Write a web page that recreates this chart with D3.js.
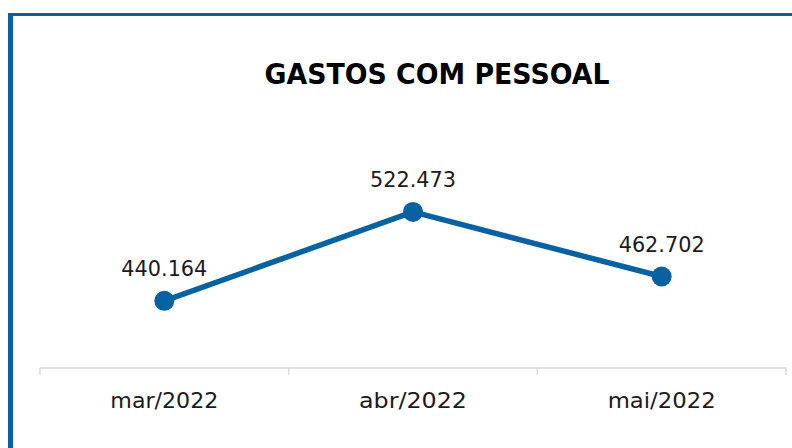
<!DOCTYPE html>
<html>
<head>
<meta charset="utf-8">
<script src="https://cdn.jsdelivr.net/npm/d3@7"></script>
<style>
  html, body { margin: 0; padding: 0; background: #fff; }
  svg { display: block; }
</style>
</head>
<body>
<div id="chart"></div>
<script>
// Gastos com pessoal (valores em milhares)
const categories = ['mar/2022', 'abr/2022', 'mai/2022'];
const values = [440.164, 522.473, 462.702];
const valueLabels = ['440.164', '522.473', '462.702'];
const title = 'GASTOS COM PESSOAL';

const width = 792;
const height = 448;
const blue = '#0862a2';
const font = "'Century Gothic', 'URW Gothic', 'DejaVu Sans', sans-serif";

const svg = d3.select('#chart')
    .append('svg')
    .attr('width', width)
    .attr('height', height);

// Frame (left and top border)
svg.append('rect')
    .attr('x', 8).attr('y', 13)
    .attr('width', width - 8).attr('height', 3)
    .attr('fill', blue);
svg.append('rect')
    .attr('x', 8).attr('y', 13)
    .attr('width', 5).attr('height', height - 13)
    .attr('fill', blue);

// Title
svg.append('text')
    .attr('x', 437)
    .attr('y', 84)
    .attr('text-anchor', 'middle')
    .attr('textLength', 345)
    .attr('lengthAdjust', 'spacingAndGlyphs')
    .style('font-family', font)
    .style('font-size', '28px')
    .style('font-weight', 'bold')
    .style('fill', '#000')
    .text(title);

// Scales
const x = d3.scaleBand()
    .domain(categories)
    .range([40, 786])
    .padding(0);

const y = d3.scaleLinear()
    .domain([378, 540])
    .range([368, 193]);

const cx = (d) => x(d) + x.bandwidth() / 2;

// Category axis
const axis = svg.append('g');
axis.append('line')
    .attr('x1', x.range()[0]).attr('x2', x.range()[1])
    .attr('y1', y(378)).attr('y2', y(378))
    .attr('stroke', '#d9d9d9')
    .attr('stroke-width', 1.5);

const bounds = categories.map((c) => x(c)).concat([x.range()[1]]);
axis.selectAll('line.tick')
    .data(bounds)
    .enter()
    .append('line')
    .attr('class', 'tick')
    .attr('x1', (d) => d).attr('x2', (d) => d)
    .attr('y1', y(378)).attr('y2', y(378) + 7)
    .attr('stroke', '#d9d9d9')
    .attr('stroke-width', 1.5);

axis.selectAll('text')
    .data(categories)
    .enter()
    .append('text')
    .attr('x', (d) => cx(d))
    .attr('y', 408)
    .attr('text-anchor', 'middle')
    .attr('textLength', 108)
    .attr('lengthAdjust', 'spacingAndGlyphs')
    .style('font-family', font)
    .style('font-size', '22px')
    .style('fill', '#1a1a1a')
    .text((d) => d);

// Line
const points = categories.map((c, i) => ({ cat: c, value: values[i], label: valueLabels[i] }));

const line = d3.line()
    .x((d) => cx(d.cat))
    .y((d) => y(d.value));

svg.append('path')
    .datum(points)
    .attr('d', line)
    .attr('fill', 'none')
    .attr('stroke', blue)
    .attr('stroke-width', 5.5)
    .attr('stroke-linejoin', 'round');

svg.selectAll('circle.pt')
    .data(points)
    .enter()
    .append('circle')
    .attr('class', 'pt')
    .attr('cx', (d) => cx(d.cat))
    .attr('cy', (d) => y(d.value))
    .attr('r', 10)
    .attr('fill', blue);

// Data labels
svg.selectAll('text.lbl')
    .data(points)
    .enter()
    .append('text')
    .attr('class', 'lbl')
    .attr('x', (d) => cx(d.cat))
    .attr('y', (d) => y(d.value) - 25)
    .attr('text-anchor', 'middle')
    .attr('textLength', 86)
    .attr('lengthAdjust', 'spacingAndGlyphs')
    .style('font-family', font)
    .style('font-size', '21.5px')
    .style('fill', '#1a1a1a')
    .text((d) => d.label);
</script>
</body>
</html>
